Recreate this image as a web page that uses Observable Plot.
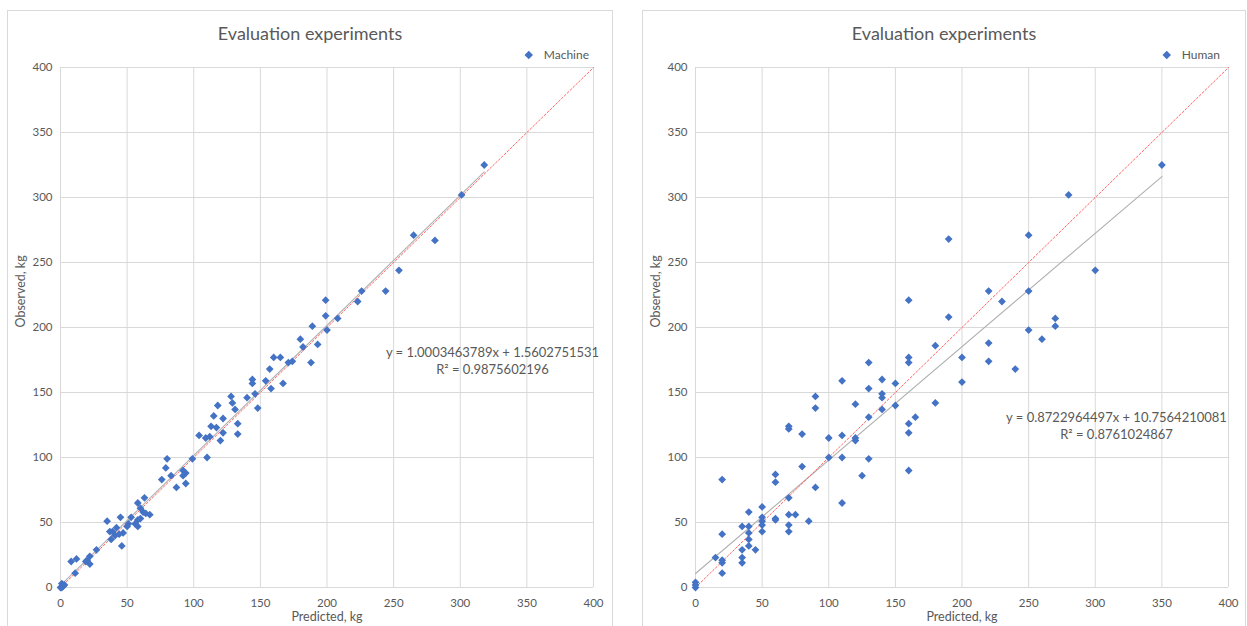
<!DOCTYPE html>
<html><head><meta charset="utf-8">
<script src="https://cdn.jsdelivr.net/npm/d3@7"></script>
<script src="https://cdn.jsdelivr.net/npm/@observablehq/plot@0.6"></script>
<style>
body{margin:0;background:#fff;font-family:Lato,sans-serif;width:1247px;height:626px;overflow:hidden;position:relative}
.panel{position:absolute;top:10px;height:640px;border:1px solid #d9d9d9;box-sizing:border-box;background:#fff}
.title{position:absolute;top:11px;left:0;right:0;text-align:center;font-size:18px;line-height:22px;color:#595959}
.legend{position:absolute;top:37px;font-size:12px;line-height:14px;color:#595959;display:flex;align-items:center}
.legend i{display:inline-block;width:5.5px;height:5.5px;background:#4472c4;transform:rotate(45deg);margin-right:12px}
.chart{position:absolute;left:0;top:29px}
</style></head>
<body>
<div class="panel" id="p1" style="left:7px;width:606px"><div class="title">Evaluation experiments</div><div class="legend" style="right:23px"><i></i>Machine</div><div class="chart" id="c1"></div></div>
<div class="panel" id="p2" style="left:642px;width:604px"><div class="title">Evaluation experiments</div><div class="legend" style="right:25px"><i></i>Human</div><div class="chart" id="c2"></div></div>
<script>
const axisTicks = [0, 50, 100, 150, 200, 250, 300, 350, 400];
const axisDomain = [0, 400];
const xTitle = "Predicted, kg";
const yTitle = "Observed, kg";

const machinePredicted = [318,301,265,281,254,244,226,223,199,199,208,189,200,180,193,182,188,171,174,160,165,157,144,144,154,167,158,128,140,146,129,131,118,148,115,122,133,113,117,122,104,109,112,120,133,110,99,80,79,92,94,92,76,83,87,94,58,63,60,62,64,67,56,58,58,60,53,50,51,45,47,46,42,37,39,35,41,38,44,27,22,20,22,19,8,12,11,1,2,0,1,3];
const machineObserved = [325,302,271,267,244,228,228,220,221,209,207,201,198,191,187,185,173,173,174,177,177,168,160,157,159,157,153,147,146,149,142,137,140,138,132,130,126,124,123,119,117,115,116,113,118,100,99,99,92,90,88,86,83,86,77,80,65,69,61,58,57,56,49,47,52,53,54,47,49,54,42,32,46,43,43,51,40,37,41,29,24,21,18,20,20,22,11,3,1,0,0,2];
const machineSlope = 1.0003463789, machineIntercept = 1.5602751531;
const machineR2 = "0.9875602196";

const humanPredicted = [350,280,190,250,300,220,250,230,160,190,270,270,250,260,180,220,200,220,240,160,160,130,200,110,140,150,130,140,140,90,180,90,120,150,140,165,130,160,160,70,70,80,100,110,120,120,100,110,130,160,125,20,60,60,80,90,70,110,50,40,50,50,60,60,70,75,85,35,40,50,50,70,70,40,40,40,20,45,35,35,35,15,20,20,20,0,0,0];
const humanObserved = [325,302,268,271,244,228,228,220,221,208,207,201,198,191,186,188,177,174,168,177,173,173,158,159,160,157,153,149,146,147,142,138,141,140,137,131,131,126,119,124,122,118,115,117,115,113,100,100,99,90,86,83,87,81,93,77,69,65,62,58,54,51,53,52,56,56,51,47,47,48,43,48,43,42,37,32,41,29,29,23,19,23,21,19,11,4,2,0];
const humanSlope = 0.8722964497, humanIntercept = 10.7564210081;
const humanR2 = "0.8761024867";

function chart(px, py, slope, intercept, r2, opts) {
  const pts = px.map((x, i) => ({x, y: py[i]}));
  const x0 = d3.min(px), x1 = d3.max(px);
  const trend = [x0, x1].map(x => ({x, y: slope * x + intercept}));
  const ident = axisDomain.map(v => ({x: v, y: v}));
  const eq = `y = ${slope.toFixed(10)}x + ${intercept.toFixed(10)}\nR² = ${r2}`;
  return Plot.plot({
    width: opts.width, height: 587,
    marginLeft: 52, marginRight: opts.marginRight, marginTop: 27, marginBottom: 40,
    style: {fontFamily: "Lato, sans-serif", fontSize: "11px", color: "#595959", background: "transparent", overflow: "visible"},
    x: {domain: axisDomain, ticks: axisTicks},
    y: {domain: axisDomain, ticks: axisTicks},
    marks: [
      Plot.gridX(axisTicks, {stroke: "#d9d9d9", strokeOpacity: 1, strokeWidth: 1}),
      Plot.gridY(axisTicks, {stroke: "#d9d9d9", strokeOpacity: 1, strokeWidth: 1}),
      Plot.axisX({ticks: axisTicks, tickSize: 0, tickPadding: 11, label: null, fontSize: 11.5}),
      Plot.axisY({ticks: axisTicks, tickSize: 0, tickPadding: 8, label: null, fontSize: 11.5}),
      Plot.text([xTitle], {frameAnchor: "bottom", dy: 33, text: d => d, fontSize: 12.5, fill: "#595959"}),
      Plot.text([yTitle], {frameAnchor: "left", dx: -40, rotate: -90, text: d => d, fontSize: 12.5, fill: "#595959"}),
      Plot.line(trend, {x: "x", y: "y", stroke: "#b0b0b0", strokeWidth: 1.1}),
      Plot.line(ident, {x: "x", y: "y", stroke: "#ff6464", strokeWidth: 1, strokeDasharray: "2,2"}),
      Plot.dot(pts, {x: "x", y: "y", symbol: "diamond2", r: 3.5, fill: "#4472c4", stroke: "none"}),
      Plot.text([eq], {frameAnchor: "top-left", dx: opts.eqDx, dy: opts.eqDy, text: d => d, textAnchor: "middle", lineAnchor: "middle", lineHeight: 1.3, fontSize: 13, fill: "#595959"})
    ]
  });
}

document.getElementById("c1").append(chart(machinePredicted, machineObserved, machineSlope, machineIntercept, machineR2, {width: 604, marginRight: 19, eqDx: 432, eqDy: 293}));
document.getElementById("c2").append(chart(humanPredicted, humanObserved, humanSlope, humanIntercept, humanR2, {width: 602, marginRight: 17, eqDx: 421, eqDy: 358}));
</script>
</body></html>
